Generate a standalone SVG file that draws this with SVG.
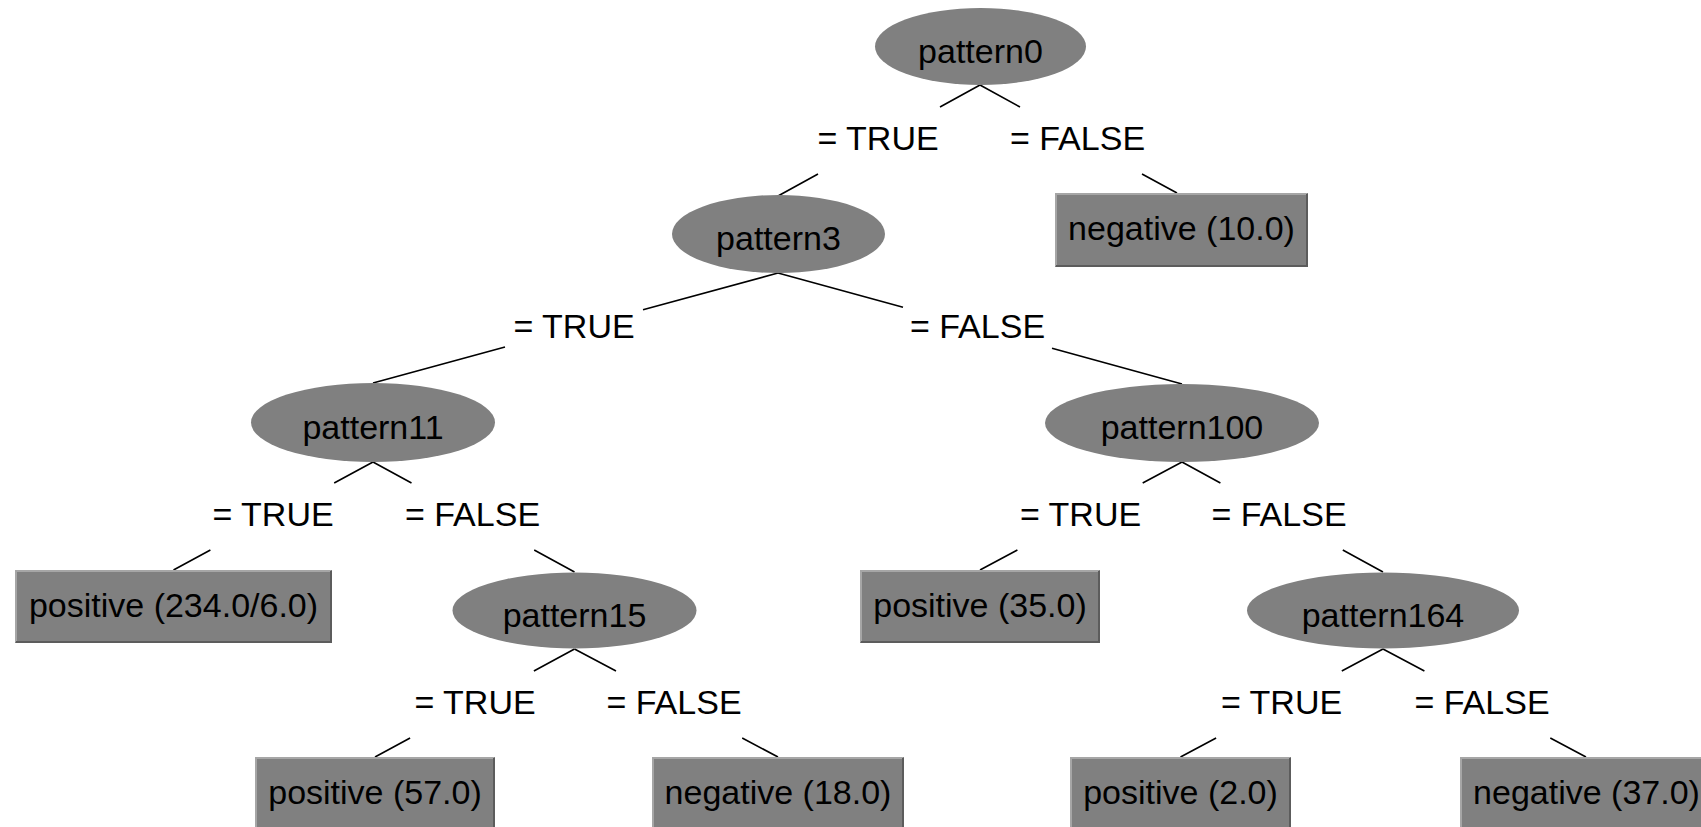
<svg xmlns="http://www.w3.org/2000/svg" width="1701" height="827" viewBox="0 0 1701 827">
<style>
.bg{fill:#ffffff}
.ell{fill:#808080}
.box{fill:#808080}
.hi{fill:none;stroke:#a6a6a6;stroke-width:2}
.lo{fill:none;stroke:#5c5c5c;stroke-width:2}
.edge{stroke:#000;stroke-width:1.6;fill:none}
text{font-family:"Liberation Sans",Arial,sans-serif;font-size:34px;fill:#000;text-anchor:middle}
</style>
<rect class="bg" x="0" y="0" width="1701" height="827"/>
<g id="connectors">
<g id="e1"><path class="edge" d="M980,85L940,107M818,174L778,196"/><text x="878" y="150">= TRUE</text></g>
<g id="e2"><path class="edge" d="M980,85L1020,107M1142,174L1177,193"/><text x="1077.5" y="150">= FALSE</text></g>
<g id="e3"><path class="edge" d="M778,273L643,309.7M505,347.1L373,383"/><text x="574" y="338">= TRUE</text></g>
<g id="e4"><path class="edge" d="M778,273L903,307.3M1052,348.3L1182,384"/><text x="977.5" y="338">= FALSE</text></g>
<g id="e5"><path class="edge" d="M373,462L334.2,483M210.4,550L173.5,570"/><text x="273" y="526">= TRUE</text></g>
<g id="e6"><path class="edge" d="M373,462L411.5,483M534.2,550L574.5,572"/><text x="472.5" y="526">= FALSE</text></g>
<g id="e7"><path class="edge" d="M1182,462L1142.7,483M1017.4,550L980,570"/><text x="1080.5" y="526">= TRUE</text></g>
<g id="e8"><path class="edge" d="M1182,462L1220.4,483M1342.8,550L1383,572"/><text x="1279" y="526">= FALSE</text></g>
<g id="e9"><path class="edge" d="M574.5,649L533.9,671M410.1,738L375,757"/><text x="475" y="714">= TRUE</text></g>
<g id="e10"><path class="edge" d="M574.5,649L616,671M742.2,738L778,757"/><text x="674" y="714">= FALSE</text></g>
<g id="e11"><path class="edge" d="M1383,649L1341.8,671M1216.1,738L1180.5,757"/><text x="1281.5" y="714">= TRUE</text></g>
<g id="e12"><path class="edge" d="M1383,649L1424.4,671M1550.3,738L1586,757"/><text x="1482" y="714">= FALSE</text></g>
</g>
<g id="pattern0"><ellipse class="ell" cx="980.5" cy="46.5" rx="105.5" ry="38.5"/><text x="980.5" y="62.5">pattern0</text></g>
<g id="pattern3"><ellipse class="ell" cx="778.5" cy="234" rx="106.5" ry="39"/><text x="778.5" y="250">pattern3</text></g>
<g id="pattern11"><ellipse class="ell" cx="373" cy="422.5" rx="122" ry="39.5"/><text x="373" y="438.5">pattern11</text></g>
<g id="pattern100"><ellipse class="ell" cx="1182" cy="423" rx="137" ry="39"/><text x="1182" y="439">pattern100</text></g>
<g id="pattern15"><ellipse class="ell" cx="574.5" cy="610.5" rx="122" ry="38"/><text x="574.5" y="626.5">pattern15</text></g>
<g id="pattern164"><ellipse class="ell" cx="1383" cy="610.5" rx="136" ry="38"/><text x="1383" y="626.5">pattern164</text></g>
<g id="leaf-neg10"><rect class="box" x="1055" y="193" width="253" height="74"/><path class="hi" d="M1056,266V194H1307"/><path class="lo" d="M1056,266H1307V194"/><text x="1181.5" y="239.5">negative (10.0)</text></g>
<g id="leaf-pos234"><rect class="box" x="15" y="570" width="317" height="73"/><path class="hi" d="M16,642V571H331"/><path class="lo" d="M16,642H331V571"/><text x="173.5" y="616.5">positive (234.0/6.0)</text></g>
<g id="leaf-pos35"><rect class="box" x="860" y="570" width="240" height="73"/><path class="hi" d="M861,642V571H1099"/><path class="lo" d="M861,642H1099V571"/><text x="980" y="616.5">positive (35.0)</text></g>
<g id="leaf-pos57"><rect class="box" x="255" y="757" width="240" height="74"/><path class="hi" d="M256,830V758H494"/><path class="lo" d="M494,830V758"/><text x="375" y="803.5">positive (57.0)</text></g>
<g id="leaf-neg18"><rect class="box" x="652" y="757" width="252" height="74"/><path class="hi" d="M653,830V758H903"/><path class="lo" d="M903,830V758"/><text x="778" y="803.5">negative (18.0)</text></g>
<g id="leaf-pos2"><rect class="box" x="1070" y="757" width="221" height="74"/><path class="hi" d="M1071,830V758H1290"/><path class="lo" d="M1290,830V758"/><text x="1180.5" y="803.5">positive (2.0)</text></g>
<g id="leaf-neg37"><rect class="box" x="1460" y="757" width="253" height="74"/><path class="hi" d="M1461,830V758H1712"/><text x="1586.5" y="803.5">negative (37.0)</text></g>
</svg>
